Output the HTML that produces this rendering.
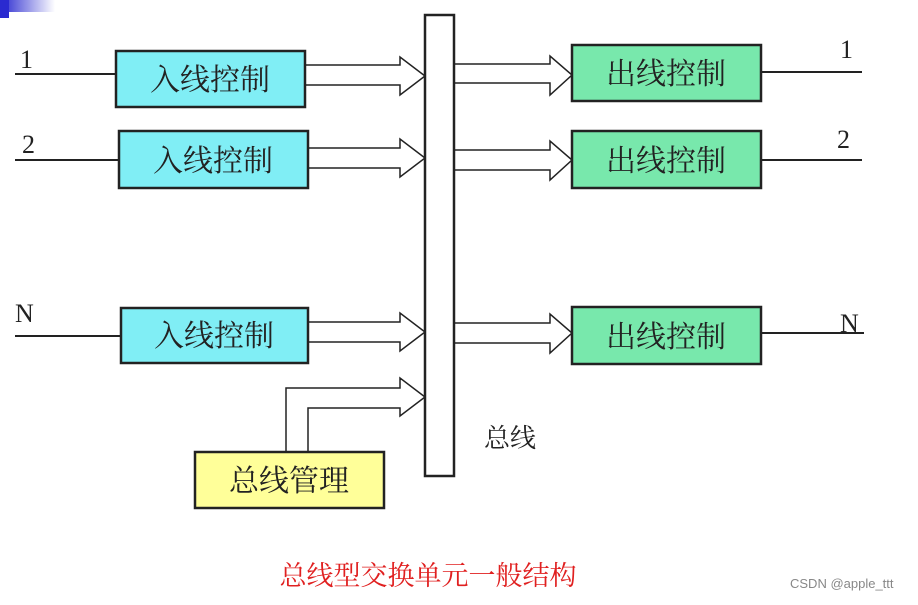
<!DOCTYPE html>
<html><head><meta charset="utf-8"><style>
body{margin:0;background:#fff;width:918px;height:600px;overflow:hidden}
svg text{font-family:"Liberation Serif","Noto Serif CJK SC",serif}
svg text.num{font-family:"Liberation Serif",serif}
svg text.wm{font-family:"Liberation Sans",sans-serif}
</style></head><body>
<svg width="918" height="600" viewBox="0 0 918 600" xmlns="http://www.w3.org/2000/svg">
<defs><linearGradient id="g" x1="0" x2="1"><stop offset="0" stop-color="#2a2ad0"/><stop offset="1" stop-color="#fff"/></linearGradient></defs>
<rect x="0" y="0" width="55" height="12" fill="url(#g)"/>
<rect x="0" y="0" width="9" height="18" fill="#2a2ad0"/>
<g stroke="#222" stroke-width="2" fill="none">
<line x1="15" y1="74" x2="116" y2="74"/>
<line x1="15" y1="160" x2="119" y2="160"/>
<line x1="15" y1="336" x2="121" y2="336"/>
<line x1="761" y1="72" x2="862" y2="72"/>
<line x1="761" y1="160" x2="862" y2="160"/>
<line x1="761" y1="333" x2="864" y2="333"/>
</g>
<g stroke="#222" stroke-width="1.5" fill="#fff">
<path d="M305 65 H400 V57 L425 76 L400 95 V85 H305"/>
<path d="M308 148 H400 V139 L425 158 L400 177 V168 H308"/>
<path d="M308 322 H400 V313 L425 332 L400 351 V342 H308"/>
<path d="M286 452 V388 H400 V378 L425 397 L400 416 V408 H308 V452"/>
<path d="M454 64 H550 V56 L572 75 L550 95 V83 H454"/>
<path d="M454 150 H550 V141 L572 160 L550 180 V170 H454"/>
<path d="M454 323 H550 V314 L572 333 L550 353 V343 H454"/>
</g>
<g stroke="#222" stroke-width="2.5">
<rect x="425" y="15" width="29" height="461" fill="#fff"/>
<rect x="116" y="51" width="189" height="56" fill="#80EEF5"/>
<rect x="119" y="131" width="189" height="57" fill="#80EEF5"/>
<rect x="121" y="308" width="187" height="55" fill="#80EEF5"/>
<rect x="572" y="45" width="189" height="56" fill="#78E8AC"/>
<rect x="572" y="131" width="189" height="57" fill="#78E8AC"/>
<rect x="572" y="307" width="189" height="57" fill="#78E8AC"/>
<rect x="195" y="452" width="189" height="56" fill="#FFFF99"/>
</g>
<g font-size="30" fill="#222" text-anchor="middle">
<text x="210" y="90">入线控制</text>
<text x="213" y="171">入线控制</text>
<text x="214" y="346">入线控制</text>
<text x="666" y="84">出线控制</text>
<text x="666" y="171">出线控制</text>
<text x="666" y="347">出线控制</text>
<text x="289" y="491">总线管理</text>
</g>
<g font-size="26" fill="#222">
<text class="num" x="20" y="68">1</text>
<text class="num" x="22" y="153">2</text>
<text class="num" x="15" y="322">N</text>
<text class="num" x="840" y="58">1</text>
<text class="num" x="837" y="148">2</text>
<text class="num" x="840" y="332">N</text>
</g>
<text x="484" y="447" font-size="26" fill="#222">总线</text>
<text x="428" y="585" font-size="27" fill="#e02020" text-anchor="middle">总线型交换单元一般结构</text>
<text class="wm" x="790" y="588" font-size="13" fill="#888">CSDN @apple_ttt</text>
</svg>
</body></html>
